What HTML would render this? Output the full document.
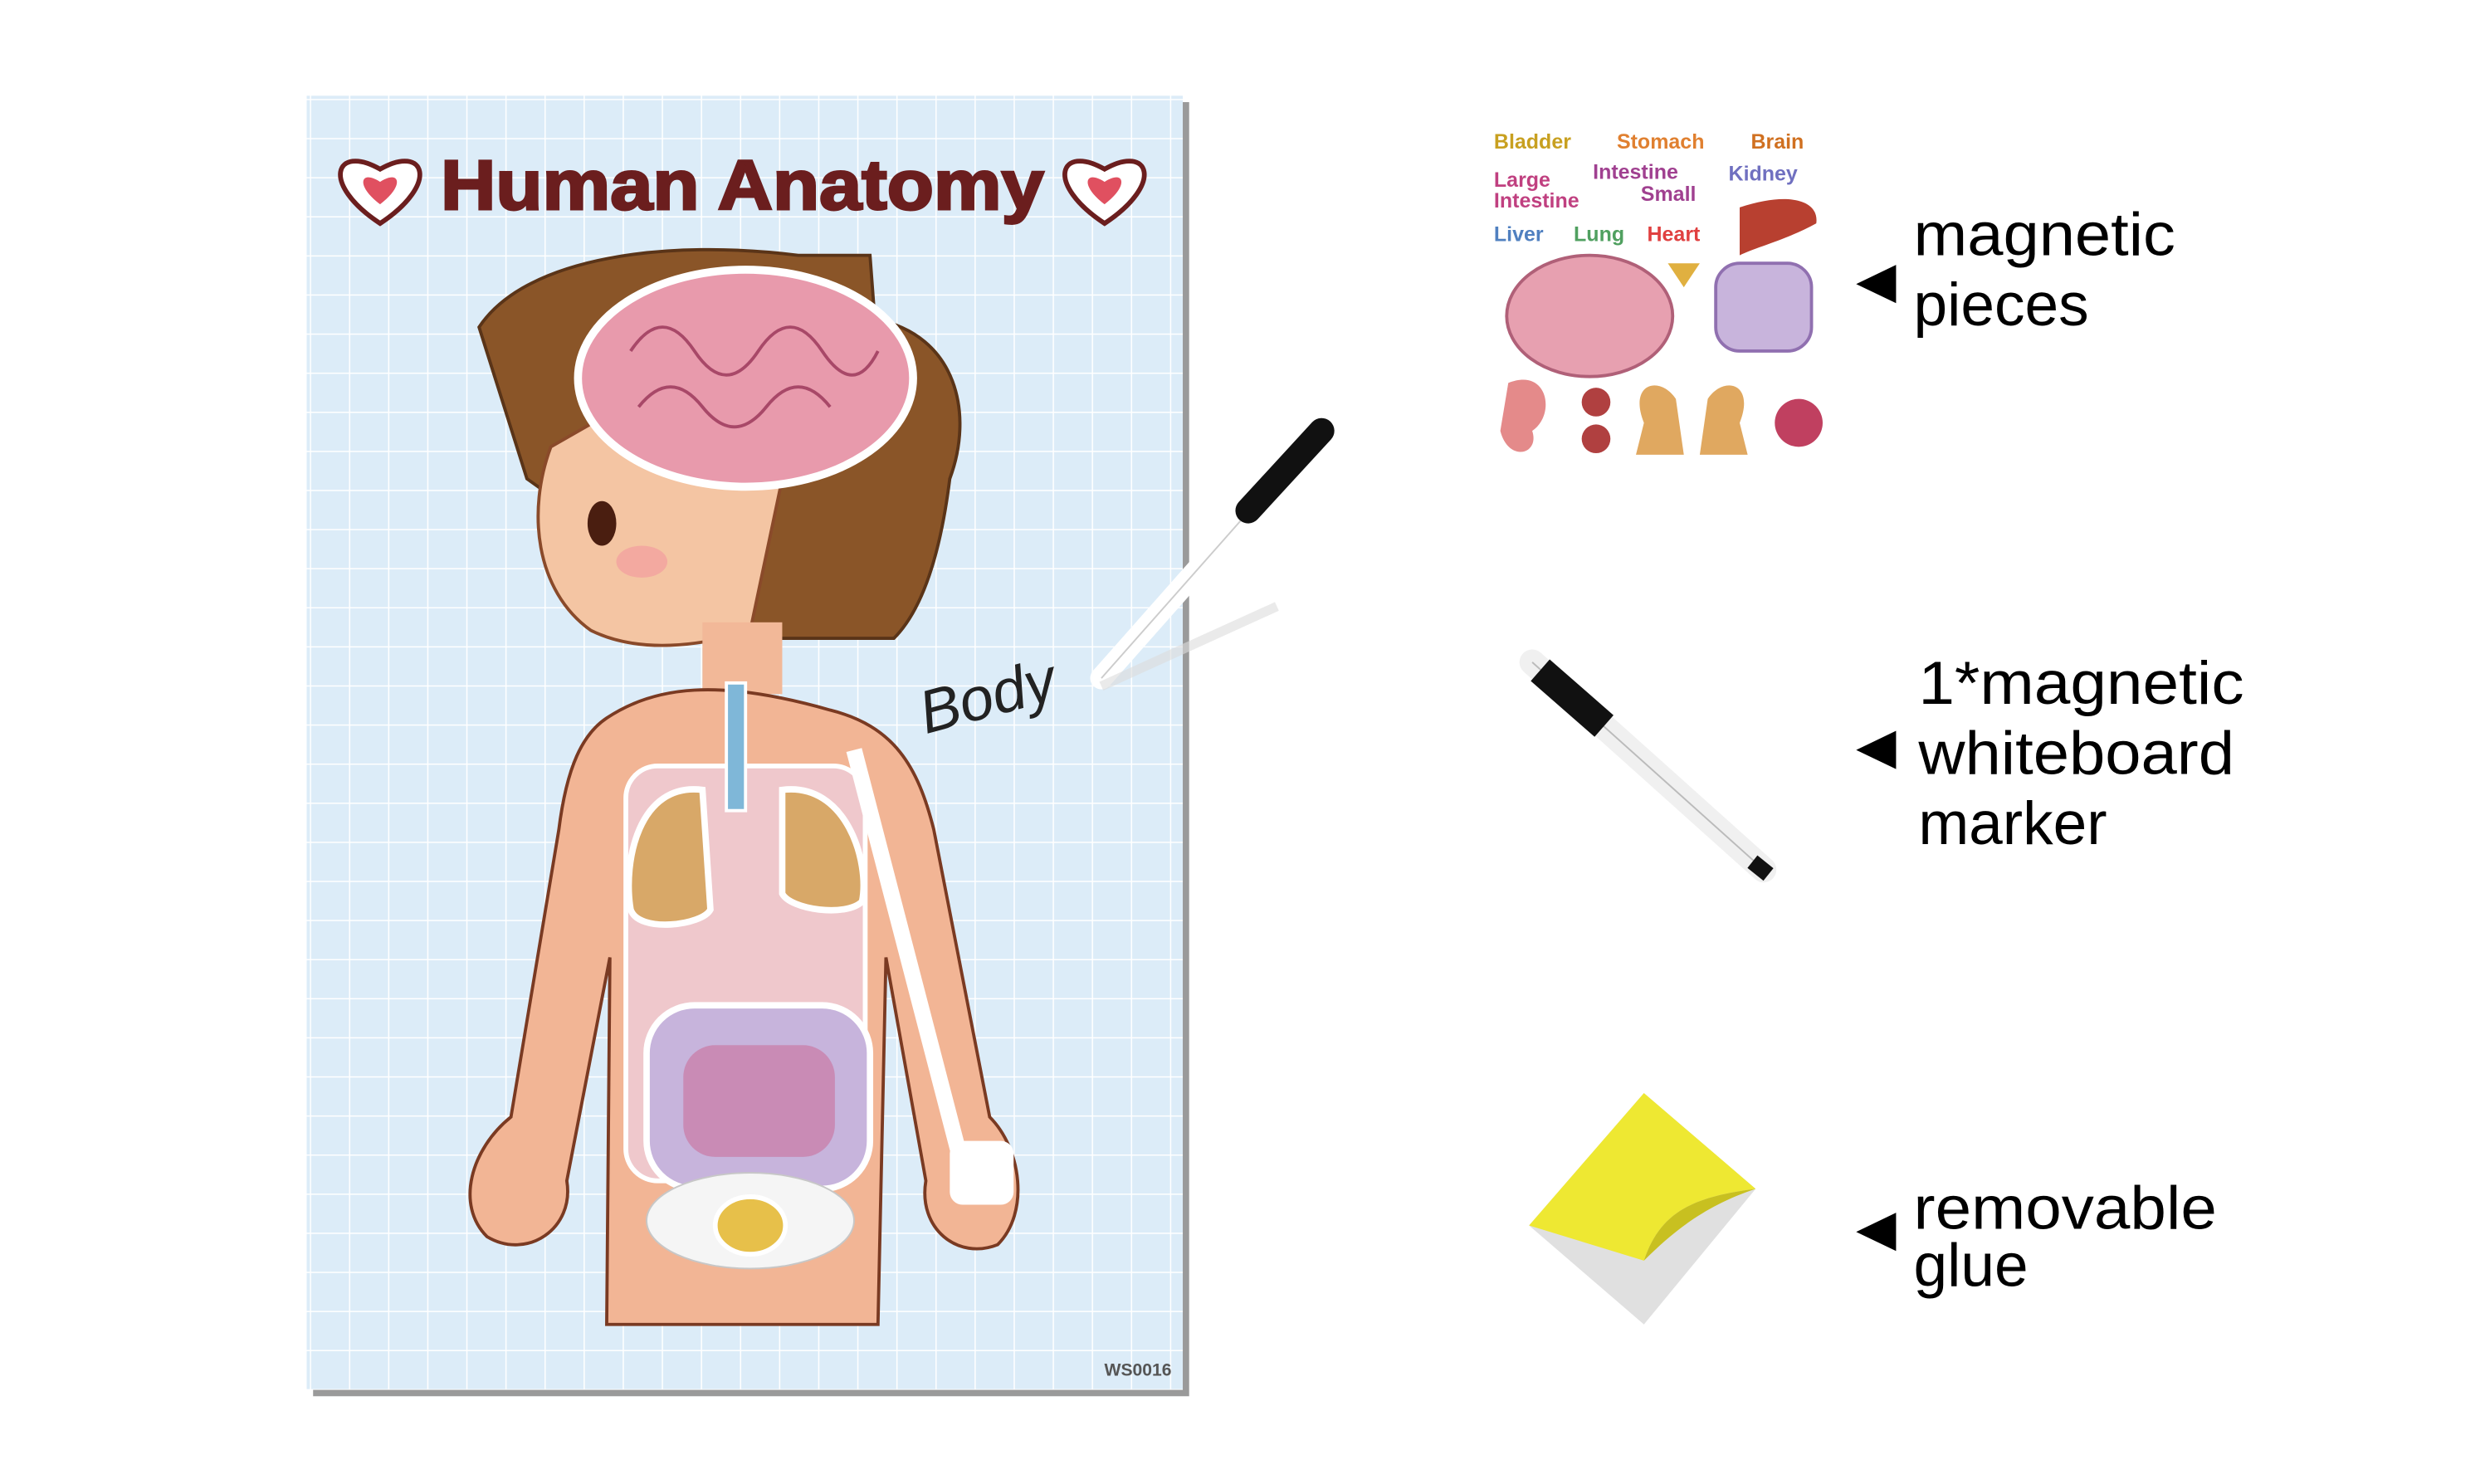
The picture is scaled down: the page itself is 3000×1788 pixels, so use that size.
<!DOCTYPE html>
<html><head><meta charset="utf-8"><style>
html,body{margin:0;padding:0;background:#fff}
svg{display:block}
</style></head><body>
<svg width="3000" height="1788" viewBox="0 0 1560 930" xmlns="http://www.w3.org/2000/svg">
<defs>
<pattern id="g" width="24.5" height="24.5" patternUnits="userSpaceOnUse" x="194" y="62">
<rect width="24.5" height="24.5" fill="#dcecf8"/>
<path d="M0 0H24.5M0 0V24.5" stroke="#fff" stroke-width="1.6"/>
</pattern>
</defs>
<rect x="0" y="0" width="1560" height="930" fill="#fff"/>
<rect x="196" y="64" width="549" height="811" fill="#9a9a9a"/>
<rect x="192" y="60" width="549" height="811" fill="url(#g)"/>
<text x="465" y="131" text-anchor="middle" font-family="Liberation Sans, sans-serif" font-weight="bold" font-size="44" fill="#6b1e1e" stroke="#6b1e1e" stroke-width="1.5" textLength="378" lengthAdjust="spacingAndGlyphs">Human  Anatomy</text>
<g fill="#fff" stroke="#6b1e1e" stroke-width="3">
<path d="M238 140 C200 115 210 90 238 106 C266 90 276 115 238 140Z"/>
<path d="M692 140 C654 115 664 90 692 106 C720 90 730 115 692 140Z"/>
</g>
<path d="M238 128 C222 116 226 106 238 114 C250 106 254 116 238 128Z" fill="#e05060"/>
<path d="M692 128 C676 116 680 106 692 114 C704 106 708 116 692 128Z" fill="#e05060"/>
<path d="M300 205 C330 160 420 150 500 160 L545 160 L548 200 C600 210 610 260 595 300 C590 340 580 380 560 400 L470 400 L330 300 Z" fill="#8a5528" stroke="#5a3418" stroke-width="2"/>
<path d="M345 280 C330 320 335 370 370 395 C400 410 440 405 470 395 L490 300 L380 260Z" fill="#f4c5a3" stroke="#8a4a2a" stroke-width="2"/>
<ellipse cx="377" cy="328" rx="9" ry="14" fill="#4a1e10"/>
<ellipse cx="402" cy="352" rx="16" ry="10" fill="#f3a9a0"/>
<rect x="440" y="390" width="50" height="45" fill="#f2b898"/>
<path d="M380 450 C410 430 450 425 520 445 C560 455 575 480 585 520 L620 700 C640 720 645 760 625 780 C600 790 575 770 580 740 L555 600 L550 830 L380 830 L382 600 L355 740 C360 770 330 790 305 775 C285 755 295 720 320 700 L350 520 C355 480 365 460 380 450Z" fill="#f2b595" stroke="#7a3a22" stroke-width="2"/>
<rect x="392" y="480" width="150" height="260" rx="20" fill="#efc8cc" stroke="#fff" stroke-width="3"/>
<path d="M440 495 C400 490 390 540 395 570 C400 585 440 580 445 570Z" fill="#d8a868" stroke="#fff" stroke-width="4"/>
<path d="M490 495 C530 490 545 540 540 565 C530 575 495 570 490 560Z" fill="#d8a868" stroke="#fff" stroke-width="4"/>
<rect x="455" y="428" width="12" height="80" fill="#7fb7d8" stroke="#fff" stroke-width="2"/>
<rect x="405" y="630" width="140" height="115" rx="30" fill="#c7b4dc" stroke="#fff" stroke-width="4"/>
<rect x="428" y="655" width="95" height="70" rx="20" fill="#c98bb5"/>
<ellipse cx="470" cy="765" rx="65" ry="30" fill="#f5f5f5" stroke="#c7c7c7"/>
<ellipse cx="470" cy="768" rx="22" ry="18" fill="#e7c04a" stroke="#fff" stroke-width="3"/>
<path d="M535 470 L600 720" stroke="#fff" stroke-width="10" fill="none"/>
<rect x="595" y="715" width="40" height="40" rx="8" fill="#fff"/>
<ellipse cx="467" cy="237" rx="105" ry="68" fill="#e89aac" stroke="#fff" stroke-width="5"/>
<path d="M395 220 q20 -30 40 0 q20 30 40 0 q20 -30 40 0 q20 30 35 0 M400 255 q20 -25 40 0 q20 25 40 0 q20 -25 40 0" stroke="#a84868" stroke-width="2" fill="none"/>
<path d="M690 425 L820 278" stroke="#fff" stroke-width="14" stroke-linecap="round"/>
<path d="M690 425 L820 278" stroke="#ccc" stroke-width="1" />
<path d="M782 320 L828 270" stroke="#111" stroke-width="16" stroke-linecap="round"/>
<path d="M690 430 L800 380" stroke="#ddd" stroke-width="6" opacity="0.6"/>
<text x="580" y="460" font-family="Liberation Sans, sans-serif" font-style="italic" font-size="38" fill="#222" transform="rotate(-15 580 460)">Body</text>
<text x="734" y="862" text-anchor="end" font-family="Liberation Sans, sans-serif" font-weight="bold" font-size="11" fill="#555">WS0016</text>
<g font-family="Liberation Sans, sans-serif" font-weight="bold" font-size="13">
<text x="936" y="93" fill="#c8a020">Bladder</text>
<text x="1013" y="93" fill="#e08030">Stomach</text>
<text x="1097" y="93" fill="#d07020">Brain</text>
<text x="936" y="117" fill="#c04080">Large</text>
<text x="936" y="130" fill="#c04080">Intestine</text>
<text x="998" y="112" fill="#a04090">Intestine</text>
<text x="1028" y="126" fill="#a04090">Small</text>
<text x="1083" y="113" fill="#7070c0">Kidney</text>
<text x="936" y="151" fill="#5080c0">Liver</text>
<text x="986" y="151" fill="#50a060">Lung</text>
<text x="1032" y="151" fill="#e04040">Heart</text>
</g>
<path d="M1090 130 C1120 120 1140 125 1138 140 C1120 150 1100 155 1090 160Z" fill="#b84030"/>
<ellipse cx="996" cy="198" rx="52" ry="38" fill="#e7a0b0" stroke="#b06078" stroke-width="2"/>
<rect x="1075" y="165" width="60" height="55" rx="15" fill="#c8b4dc" stroke="#9070b0" stroke-width="2"/>
<path d="M1030 265 C1020 240 1040 235 1050 250 L1055 285 L1025 285Z" fill="#e0a860"/>
<path d="M1090 265 C1100 240 1080 235 1070 250 L1065 285 L1095 285Z" fill="#e0a860"/>
<path d="M945 240 C970 230 975 260 960 270 C965 285 945 290 940 270Z" fill="#e48a8a"/>
<circle cx="1000" cy="252" r="9" fill="#b04040"/>
<circle cx="1000" cy="275" r="9" fill="#b04040"/>
<circle cx="1127" cy="265" r="15" fill="#c04060"/>
<path d="M1045 165 h20 l-10 15z" fill="#e0b040"/>
<path d="M960 415 L1105 545" stroke="#f0f0f0" stroke-width="16" stroke-linecap="round"/>
<path d="M960 415 L1105 545" stroke="#bbb" stroke-width="1"/>
<path d="M965 420 L1005 455" stroke="#111" stroke-width="18"/>
<path d="M1098 540 L1108 548" stroke="#111" stroke-width="10"/>
<path d="M1030 685 L1100 745 L1030 830 L958 768Z" fill="#e0e0e0"/>
<path d="M1030 685 L1100 745 C1060 750 1040 760 1030 790 L958 768Z" fill="#eee832"/>
<path d="M1100 745 C1060 750 1040 760 1030 790 C1050 770 1070 755 1100 745Z" fill="#c8c020"/>
<path d="M1163 178 L1188 166 L1188 190Z" fill="#000"/>
<path d="M1163 470 L1188 458 L1188 482Z" fill="#000"/>
<path d="M1163 772 L1188 760 L1188 784Z" fill="#000"/>
<g font-family="Liberation Sans, sans-serif" font-size="38" fill="#000">
<text x="1199" y="160" textLength="164" lengthAdjust="spacingAndGlyphs">magnetic</text>
<text x="1199" y="204">pieces</text>
<text x="1202" y="441" textLength="204" lengthAdjust="spacingAndGlyphs">1*magnetic</text>
<text x="1202" y="485" textLength="198" lengthAdjust="spacingAndGlyphs">whiteboard</text>
<text x="1202" y="529">marker</text>
<text x="1199" y="770" textLength="190" lengthAdjust="spacingAndGlyphs">removable</text>
<text x="1199" y="806">glue</text>
</g>
</svg>
</body></html>
